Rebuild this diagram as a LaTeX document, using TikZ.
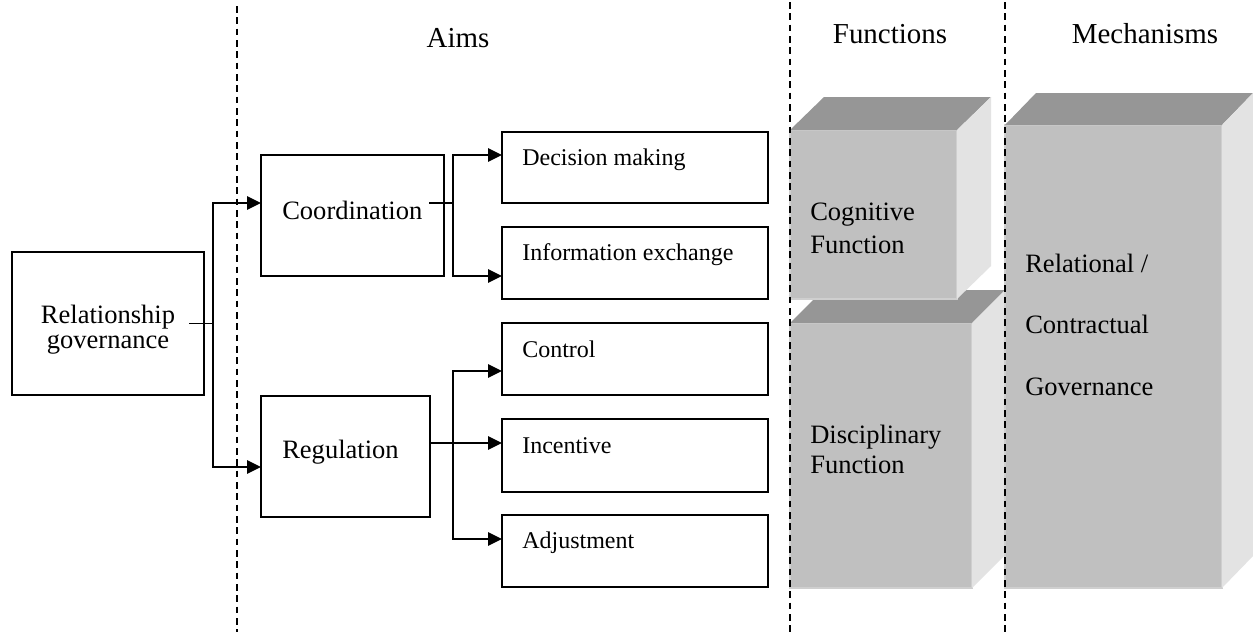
\documentclass[tikz,border=0pt]{standalone}
\usepackage{fontspec}
\setmainfont{Liberation Serif}
\usetikzlibrary{arrows.meta,calc}
\definecolor{frontc}{HTML}{C0C0C0}
\definecolor{topc}{HTML}{969696}
\definecolor{sidec}{HTML}{E3E3E3}
\definecolor{edgec}{HTML}{CFCFCF}
\tikzset{
 px/.style 2 args={minimum width=#1*0.75pt, minimum height=#2*0.75pt},
 box/.style={draw=black, line width=1.4pt, inner sep=0pt, outer sep=0pt, fill=white},
 frontface/.style={fill=frontc, draw=edgec, line width=1.2pt, inner sep=0pt, outer sep=0pt},
 conn/.style={line width=1.4pt},
 arr/.style={line width=1.4pt, -{Triangle[length=10.5pt,width=10pt]}},
 sepline/.style={line width=1.1pt, dash pattern=on 5pt off 3.5pt},
 bigtxt/.style={font=\fontsize{19.9}{24}\selectfont, inner sep=0pt, anchor=base west},
 smalltxt/.style={font=\fontsize{18}{22}\selectfont, inner sep=0pt, anchor=base west},
 headtxt/.style={font=\fontsize{21.7}{26}\selectfont, inner sep=0pt, anchor=base},
}
\newcommand{\mycube}[2]{%
 \fill[topc] (#1.north west) -- ++(#2) -- ($(#1.north east)+(#2)$) -- (#1.north east) -- cycle;
 \fill[sidec] (#1.north east) -- ++(#2) -- ($(#1.south east)+(#2)$) -- (#1.south east) -- cycle;
}
\begin{document}
\begin{tikzpicture}[x=0.75pt,y=-0.75pt]
\useasboundingbox (0,0) rectangle (1253,632);
\fill[white] (0,0) rectangle (1253,632);

% headings
\node[headtxt] (hAims) at (458,47) {Aims};
\node[headtxt] (hFun) at (890,43) {Functions};
\node[headtxt] (hMech) at (1145,43) {Mechanisms};

% left boxes
\node[box, px={192}{143}] (rg) at (108,323.5) {};
\node[bigtxt, anchor=base] (rgt1) at ($(rg.north)+(0,71)$) {Relationship};
\node[bigtxt, anchor=base] (rgt2) at ($(rg.north)+(0,96)$) {governance};

\node[box, px={183}{121}] (coord) at (352.5,215.5) {};
\node[bigtxt] (coordt) at ($(coord.north west)+(21,64)$) {Coordination};
\node[box, px={169}{121}] (reg) at (345.5,456.5) {};
\node[bigtxt] (regt) at ($(reg.north west)+(21,62)$) {Regulation};

% small boxes
\node[box, px={266}{71}] (dm) at (635,167.5) {};
\node[smalltxt] (dmt) at ($(dm.north west)+(20,33)$) {Decision making};
\node[box, px={266}{72}] (ie) at (635,263) {};
\node[smalltxt] (iet) at ($(ie.north west)+(20,33)$) {Information exchange};
\node[box, px={266}{72}] (ctl) at (635,359) {};
\node[smalltxt] (ctlt) at ($(ctl.north west)+(20,34)$) {Control};
\node[box, px={266}{73}] (inc) at (635,455.5) {};
\node[smalltxt] (inct) at ($(inc.north west)+(20,34)$) {Incentive};
\node[box, px={266}{72}] (adj) at (635,551) {};
\node[smalltxt] (adjt) at ($(adj.north west)+(20,33)$) {Adjustment};

% connectors
\coordinate (rgo) at ($(rg.east)+(-15,0)$);
\coordinate (j1) at ($(rg.east)+(9,0)$);
\coordinate (c1) at ($(coord.north west)+(0,48)$);
\coordinate (r1) at ($(reg.north west)+(0,71)$);
\draw[conn] (rgo) -- (j1);
\draw[arr] (j1) |- (c1);
\draw[arr] (j1) |- (r1);

\coordinate (co) at ($(coord.north east)+(-15,48)$);
\coordinate (j2) at ($(coord.north east)+(9,48)$);
\coordinate (d1) at ($(dm.north west)+(0,23)$);
\coordinate (i1) at ($(ie.north west)+(0,49)$);
\draw[conn] (co) -- (j2);
\draw[arr] (j2) |- (d1);
\draw[arr] (j2) |- (i1);

\coordinate (ro) at ($(reg.north east)+(0,-13.5)$);
\coordinate (ro) at ($(reg.north east)+(0,47)$);
\coordinate (j3) at ($(reg.north east)+(23,47)$);
\coordinate (n1) at ($(inc.north west)+(0,24)$);
\coordinate (t1) at ($(ctl.north west)+(0,48)$);
\coordinate (a1) at ($(adj.north west)+(0,24)$);
\draw[arr] (ro) -- (n1);
\draw[arr] (j3) |- (t1);
\draw[arr] (j3) |- (a1);

% cubes
\node[frontface, px={182}{265}] (dis) at (881,455.5) {};
\mycube{dis}{33,-33}
\node[smalltxt, font=\fontsize{19.9}{24}\selectfont] (dist1) at ($(dis.north west)+(20,120)$) {Disciplinary};
\node[smalltxt, font=\fontsize{19.9}{24}\selectfont] (dist2) at ($(dis.north west)+(20,150)$) {Function};

\node[frontface, px={167}{169}] (cog) at (873.5,214.5) {};
\mycube{cog}{34,-33}
\node[bigtxt] (cogt1) at ($(cog.north west)+(20,90)$) {Cognitive};
\node[bigtxt] (cogt2) at ($(cog.north west)+(20,123)$) {Function};

\node[frontface, px={217}{463}] (mech) at (1113.5,356.5) {};
\mycube{mech}{31,-32}
\node[bigtxt] (mt1) at ($(mech.north west)+(20,147)$) {Relational /};
\node[bigtxt] (mt2) at ($(mech.north west)+(20,208)$) {Contractual};
\node[bigtxt] (mt3) at ($(mech.north west)+(20,270)$) {Governance};

% dashed separators
\draw[sepline] (237,6) -- (237,632);
\draw[sepline] (790,2) -- (790,632);
\draw[sepline] (1005,2) -- (1005,632);
\end{tikzpicture}
\end{document}
